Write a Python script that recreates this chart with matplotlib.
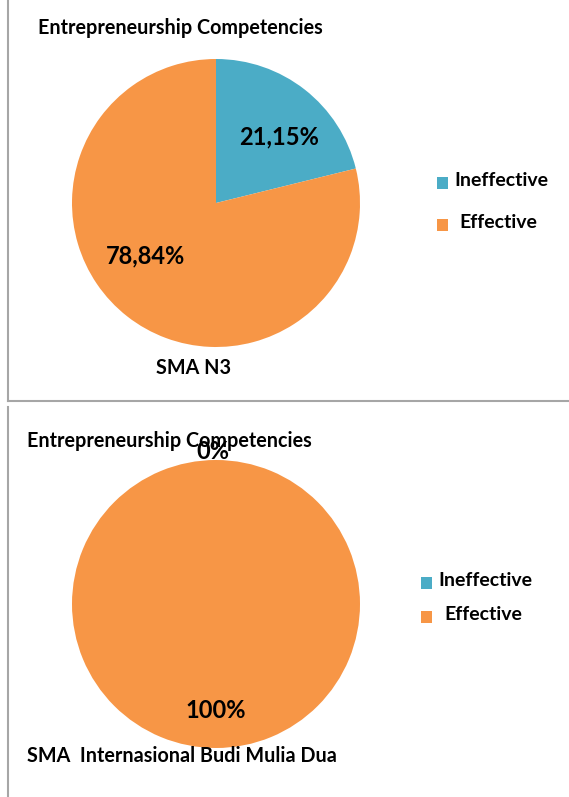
import matplotlib.pyplot as plt
from matplotlib.lines import Line2D
from matplotlib.patches import Rectangle

plt.rcParams['font.family'] = ['Lato', 'DejaVu Sans']

categories = ['Ineffective', 'Effective']
colors = ['#4BACC6', '#F79646']

title = 'Entrepreneurship Competencies'
school_1 = 'SMA N3'
values_1 = [21.15, 78.84]
pct_1 = ['21,15%', '78,84%']

school_2 = 'SMA  Internasional Budi Mulia Dua'
values_2 = [0, 100]
pct_2 = ['0%', '100%']

W, H = 569, 797
fig = plt.figure(figsize=(W / 100, H / 100), dpi=100)


def px(x, y):
    # pixel position (from top-left) to figure fraction
    return x / W, 1 - y / H


def draw_pie(cy, values, pcts, pct_pos, school, school_xy, title_xy,
             sq_x, sq_y, txt_x, txt_y):
    r = 144
    ax = fig.add_axes([(216 - r) / W, 1 - (cy + r) / H, 2 * r / W, 2 * r / H])
    ax.pie(values, colors=colors, startangle=90, counterclock=False,
           wedgeprops=dict(linewidth=0))
    ax.set_xlim(-1, 1)
    ax.set_ylim(-1, 1)
    ax.set_aspect('equal')
    for txt, (x, y) in zip(pcts, pct_pos):
        ax.text(x, y, txt, ha='center', va='center', fontsize=17,
                fontweight='bold', color='black')
    fig.text(*px(*title_xy), title, ha='left', va='center', fontsize=14.2,
             fontweight='bold')
    fig.text(*px(*school_xy), school, ha='left', va='center', fontsize=14.2,
             fontweight='bold')
    # legend
    for i, cat in enumerate(categories):
        x0, y0 = px(sq_x, sq_y[i] + 12)
        fig.add_artist(Rectangle((x0, y0), 11 / W, 12 / H, facecolor=colors[i],
                                 edgecolor='none', transform=fig.transFigure))
        fig.text(*px(txt_x[i], txt_y[i]), cat, ha='left', va='center',
                 fontsize=14, fontweight='bold')
    return ax


draw_pie(203, values_1, pct_1, [(0.44, 0.46), (-0.49, -0.37)], school_1,
         (156, 368), (38, 28), 437, [177, 219], [454, 459], [181, 223])
draw_pie(604, values_2, pct_2, [(-0.02, 1.06), (0.0, -0.74)], school_2,
         (27, 756), (27, 441), 421, [577, 611], [438, 444], [581, 615])

# panel borders
border = '#A6A6A6'
fig.add_artist(Line2D([8 / W, 8 / W], [1, 1 - 401 / H], color=border, lw=1.5,
                      transform=fig.transFigure))
fig.add_artist(Line2D([8 / W, 1], [1 - 401 / H, 1 - 401 / H], color=border,
                      lw=1.5, transform=fig.transFigure))
fig.add_artist(Line2D([8 / W, 8 / W], [1 - 407 / H, 0], color=border, lw=1.5,
                      transform=fig.transFigure))

fig.savefig('out.png', dpi=100)
